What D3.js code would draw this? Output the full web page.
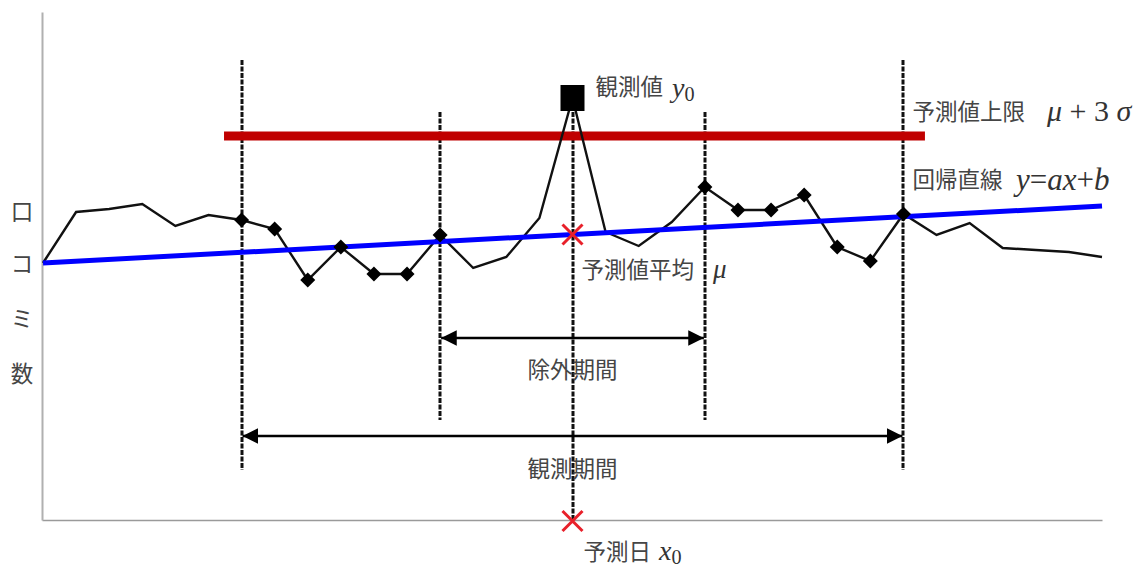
<!DOCTYPE html>
<html>
<head>
<meta charset="utf-8">
<script src="https://cdn.jsdelivr.net/npm/d3@7"></script>
<style>
html,body{margin:0;padding:0;background:#fff;}
svg{display:block;}
.jp{font-family:"Noto Sans CJK JP","Noto Sans",sans-serif;font-size:22.5px;fill:#454545;}
.m{font-family:"Liberation Serif","DejaVu Serif",serif;font-style:italic;fill:#333;}
</style>
</head>
<body>
<script>
// ---- data ----
const days = d3.range(0, 33);            // day index
const counts = [51.4, 61.6, 62.2, 63.2, 58.8, 61.0, 60.0, 58.2, 48.0, 54.6, 49.2, 49.2, 57.0,
                50.4, 52.6, 60.4, 84.4, 57.6, 54.8, 59.6, 66.6, 62.0, 62.0, 65.0, 54.6, 51.8,
                61.2, 57.0, 59.4, 54.4, 54.0, 53.6, 52.6];
const observeStart = 6, observeEnd = 26;     // 観測期間
const excludeStart = 12, excludeEnd = 20;    // 除外期間
const predictDay = 16;                       // 予測日 x0
const regressionEnds = [51.4, 62.8];         // y=ax+b at day 0 and day 32
const upperLimit = 76.8;                     // μ + 3σ
const upperSpan = [5.47, 26.65];
const yLabel = ["口", "コ", "ミ", "数"];

// ---- layout ----
const W = 1145, H = 567;
const svg = d3.select("body").append("svg").attr("width", W).attr("height", H);
const x = d3.scaleLinear().domain([0, 32]).range([43, 1102]);
const y = d3.scaleLinear().domain([0, 101.6]).range([520, 12]);

// axes (lines only)
svg.append("g").attr("transform", `translate(0,${y(0)})`)
  .call(d3.axisBottom(d3.scaleLinear().domain([0,32]).range([42,1102])).ticks(0).tickSizeOuter(0))
  .call(g => g.select(".domain").attr("stroke", "#9a9a9a").attr("stroke-width", 1.6));
svg.append("g").attr("transform", `translate(42,0)`)
  .call(d3.axisLeft(y).ticks(0).tickSizeOuter(0))
  .call(g => g.select(".domain").attr("stroke", "#b0b0b0").attr("stroke-width", 2));

// dashed verticals
const vlines = [
  {d: observeStart, top: 92, bot: 10},
  {d: observeEnd, top: 92, bot: 10},
  {d: excludeStart, top: 81.6, bot: 20},
  {d: excludeEnd, top: 81.6, bot: 20},
  {d: predictDay, top: 81.6, bot: 0}
];
svg.selectAll(".vl").data(vlines).enter().append("line")
  .attr("x1", d => Math.round(x(d.d))).attr("x2", d => Math.round(x(d.d)))
  .attr("y1", d => y(d.top)).attr("y2", d => y(d.bot))
  .attr("stroke", "#111").attr("stroke-width", 3).attr("stroke-dasharray", "5,1.5");

// upper limit (red)
svg.append("line")
  .attr("x1", x(upperSpan[0])).attr("x2", x(upperSpan[1]))
  .attr("y1", y(upperLimit)).attr("y2", y(upperLimit))
  .attr("stroke", "#c00000").attr("stroke-width", 9);

// data line
const pts = days.map((d, i) => [d, counts[i]]);
svg.append("path").datum(pts)
  .attr("fill", "none").attr("stroke", "#111").attr("stroke-width", 2.4)
  .attr("stroke-linejoin", "miter")
  .attr("d", d3.line().x(d => x(d[0])).y(d => y(d[1])));

// regression line (blue)
svg.append("line")
  .attr("x1", x(0)).attr("x2", x(32))
  .attr("y1", y(regressionEnds[0])).attr("y2", y(regressionEnds[1]))
  .attr("stroke", "#0000ff").attr("stroke-width", 5);

// diamond markers within observation period (excluding exclusion interior)
const markerPts = pts.filter(d => (d[0] >= observeStart && d[0] <= excludeStart) || (d[0] >= excludeEnd && d[0] <= observeEnd));
svg.selectAll(".dm").data(markerPts).enter().append("path")
  .attr("transform", d => `translate(${x(d[0])},${y(d[1])})`)
  .attr("d", "M0,-7.5L7.5,0L0,7.5L-7.5,0Z").attr("fill", "#000");

// observed value square
const obs = pts[predictDay];
svg.append("rect")
  .attr("x", x(obs[0]) - 12).attr("y", y(obs[1]) - 13)
  .attr("width", 24).attr("height", 26).attr("fill", "#000");

// red X marks
const regAt = d => regressionEnds[0] + (regressionEnds[1] - regressionEnds[0]) * d / 32;
function cross(cx, cy) {
  const s = 10;
  svg.append("path")
    .attr("d", `M${cx-s},${cy-s}L${cx+s},${cy+s}M${cx+s},${cy-s}L${cx-s},${cy+s}`)
    .attr("stroke", "#e8202a").attr("stroke-width", 3).attr("fill", "none");
}
cross(x(predictDay), y(regAt(predictDay)));
cross(x(predictDay), y(0) + 1);

// arrows
svg.append("defs").html(`
<marker id="ah" viewBox="0 0 10 10" refX="10" refY="5" markerWidth="6.5" markerHeight="6.5" orient="auto-start-reverse" markerUnits="strokeWidth">
<path d="M0,0L10,5L0,10Z" fill="#000"/></marker>`);
function arrow(a, b, v) {
  svg.append("line")
    .attr("x1", x(a) + 1).attr("x2", x(b) - 1).attr("y1", y(v)).attr("y2", y(v))
    .attr("stroke", "#000").attr("stroke-width", 2.4)
    .attr("marker-start", "url(#ah)").attr("marker-end", "url(#ah)");
}
arrow(excludeStart, excludeEnd, 36.4);
arrow(observeStart, observeEnd, 16.8);

// texts
function jp(txt, px, py, anchor) {
  return svg.append("text").attr("class", "jp").attr("x", px).attr("y", py)
    .attr("dominant-baseline", "central").attr("text-anchor", anchor || "start").text(txt);
}
jp("除外期間", x(predictDay), 368, "middle");
jp("観測期間", x(predictDay), 467, "middle");
jp("観測値", x(predictDay) + 23, 85);
jp("予測値上限", x(observeEnd) + 9, 110);
jp("回帰直線", x(observeEnd) + 9, 178);
jp("予測値平均", x(predictDay) + 9, 268);
jp("予測日", x(predictDay) + 11, 550);

// math parts
function mtext(px, py, size, parts) {
  const t = svg.append("text").attr("x", px).attr("y", py).attr("class", "m").style("font-size", size + "px");
  parts.forEach(p => {
    const s = t.append("tspan").text(p.t);
    if (p.up) s.style("font-style", "normal");
    if (p.sub) s.style("font-size", (size * 0.72) + "px").attr("dy", 4);
  });
  return t;
}
mtext(672, 97, 28, [{t: "y"}, {t: "0", up: true, sub: true}]);
mtext(1047, 121, 30, [{t: "μ"}, {t: " + 3 ", up: true}, {t: "σ"}]);
mtext(1016, 190, 31, [{t: "y"}, {t: "=", up: true}, {t: "ax"}, {t: "+", up: true}, {t: "b"}]);
mtext(713, 278, 27, [{t: "μ"}]);
mtext(659, 560, 28, [{t: "x"}, {t: "0", up: true, sub: true}]);

// y axis label (stacked)
const yl = [210, 262, 317, 372];
svg.selectAll(".yl").data(yLabel).enter().append("text")
  .attr("class", "jp").attr("x", 22).attr("y", (d, i) => yl[i])
  .attr("text-anchor", "middle").attr("dominant-baseline", "central")
  .text(d => d);
</script>
</body>
</html>
